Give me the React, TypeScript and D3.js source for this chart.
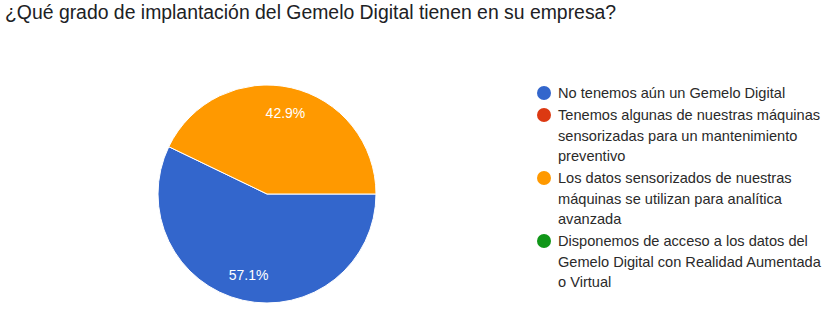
import React from "react";
import * as d3 from "d3";

const title = "¿Qué grado de implantación del Gemelo Digital tienen en su empresa?";
const categories = [
  "No tenemos aún un Gemelo Digital",
  "Tenemos algunas de nuestras máquinas sensorizadas para un mantenimiento preventivo",
  "Los datos sensorizados de nuestras máquinas se utilizan para analítica avanzada",
  "Disponemos de acceso a los datos del Gemelo Digital con Realidad Aumentada o Virtual",
];
const legendLines = [
  ["No tenemos aún un Gemelo Digital"],
  ["Tenemos algunas de nuestras máquinas", "sensorizadas para un mantenimiento", "preventivo"],
  ["Los datos sensorizados de nuestras", "máquinas se utilizan para analítica", "avanzada"],
  ["Disponemos de acceso a los datos del", "Gemelo Digital con Realidad Aumentada", "o Virtual"],
];
const values = [4, 0, 3, 0];
const colors = ["#3366cc", "#dc3912", "#ff9900", "#109618"];

export default function App() {
  const W = 837, H = 317;
  const cx = 267, cy = 194, r = 109;
  const pie = d3.pie<number>().sort(null).startAngle(Math.PI / 2).endAngle(Math.PI / 2 + 2 * Math.PI);
  const arcs = pie(values);
  const arcGen = d3.arc<d3.PieArcDatum<number>>().innerRadius(0).outerRadius(r);
  const labelArc = d3.arc<d3.PieArcDatum<number>>().innerRadius(r * 0.76).outerRadius(r * 0.76);
  const total = d3.sum(values);

  let y = 93;
  const lineH = 20.5;
  const legendItems = legendLines.map((lines, i) => {
    const y0 = y;
    y += lines.length * lineH + 1.5;
    return { lines, y0, i };
  });

  return (
    <svg width={W} height={H} style={{ position: "absolute", left: 0, top: 0 }}>
      <rect width={W} height={H} fill="#fff" />
      <text x={5} y={19} fontFamily="Arial, 'Liberation Sans', sans-serif" fontSize={19.4} fill="#202124">{title}</text>
      <g transform={`translate(${cx},${cy})`}>
        {arcs.map((a, i) =>
          a.value > 0 ? (
            <path key={i} d={arcGen(a) || ""} fill={colors[i]} stroke="#fff" strokeWidth={1} />
          ) : null
        )}
        {arcs.map((a, i) => {
          if (a.value <= 0) return null;
          const [lx, ly] = labelArc.centroid(a);
          return (
            <text key={"l" + i} x={lx} y={ly} textAnchor="middle" dominantBaseline="central"
              fontFamily="Arial, 'Liberation Sans', sans-serif" fontSize={14} fill="#fff">
              {((a.value / total) * 100).toFixed(1)}%
            </text>
          );
        })}
      </g>
      {legendItems.map(({ lines, y0, i }) => (
        <g key={i}>
          <circle cx={544} cy={y0} r={7} fill={colors[i]} />
          {lines.map((ln, j) => (
            <text key={j} x={558} y={y0 + j * lineH} dominantBaseline="central"
              fontFamily="Arial, 'Liberation Sans', sans-serif" fontSize={14.6} fill="#2a2a2a">{ln}</text>
          ))}
        </g>
      ))}
    </svg>
  );
}
